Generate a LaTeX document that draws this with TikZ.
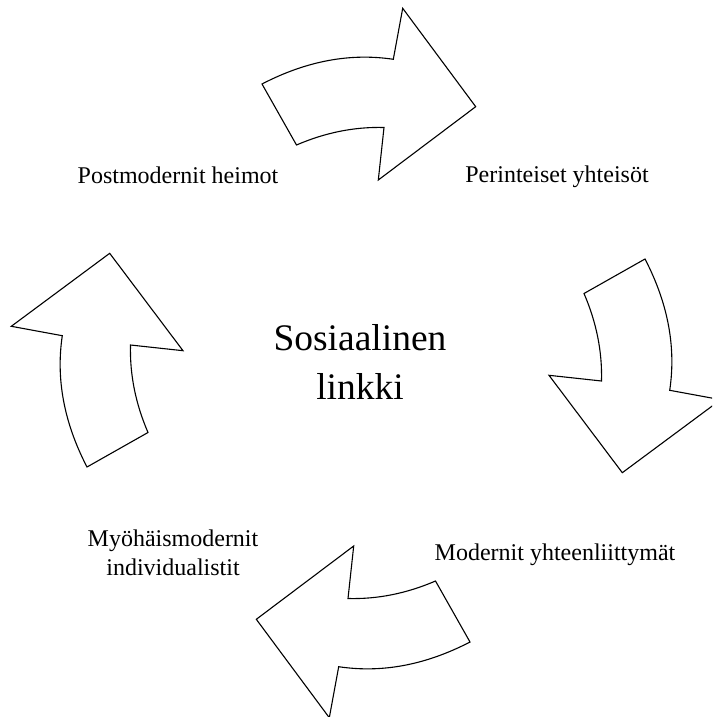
\documentclass[tikz,border=0pt]{standalone}
\usepackage{fontspec}
\setmainfont{Liberation Serif}
\begin{document}
\begin{tikzpicture}[x=1pt,y=-1pt,
  cyclearrow/.style={draw=black,fill=white,line width=1.1pt,line join=miter},
  steplabel/.style={font=\fontsize{24}{28.3}\selectfont,align=center,inner sep=0pt,anchor=base},
  hublabel/.style={font=\fontsize{37.5}{49}\selectfont,align=center,inner sep=0pt,anchor=base}]
\useasboundingbox (0,0) rectangle (712,717);
\clip (0,0) rectangle (712,717);

% centre of the cycle
\coordinate (hubc) at (366,363);

% one curved block arrow, drawn four times around the centre
\foreach \ang in {0,-90,-180,-270}{
  \begin{scope}[rotate around={\ang:(hubc)}]
    \draw[cyclearrow] (262,84) .. controls (306.3,61) and (350.1,52.8) .. (393.3,59.3)
      -- (402.7,8.3) -- (475.7,106.7) -- (378.3,180) -- (384,127.5)
      .. controls (354.7,126.7) and (325.5,132.5) .. (296.5,145) -- cycle;
  \end{scope}
}

% labels (base anchor sits on the last line's baseline)
\node[hublabel] (hub) at (360,399) {Sosiaalinen\\linkki};
\node[steplabel] (s1) at (557,182.3) {Perinteiset yhteisöt};
\node[steplabel] (s2) at (555,560) {Modernit yhteenliittymät};
\node[steplabel] (s3) at (173,575) {Myöhäismodernit\\individualistit};
\node[steplabel] (s4) at (178,183) {Postmodernit heimot};
\end{tikzpicture}
\end{document}
